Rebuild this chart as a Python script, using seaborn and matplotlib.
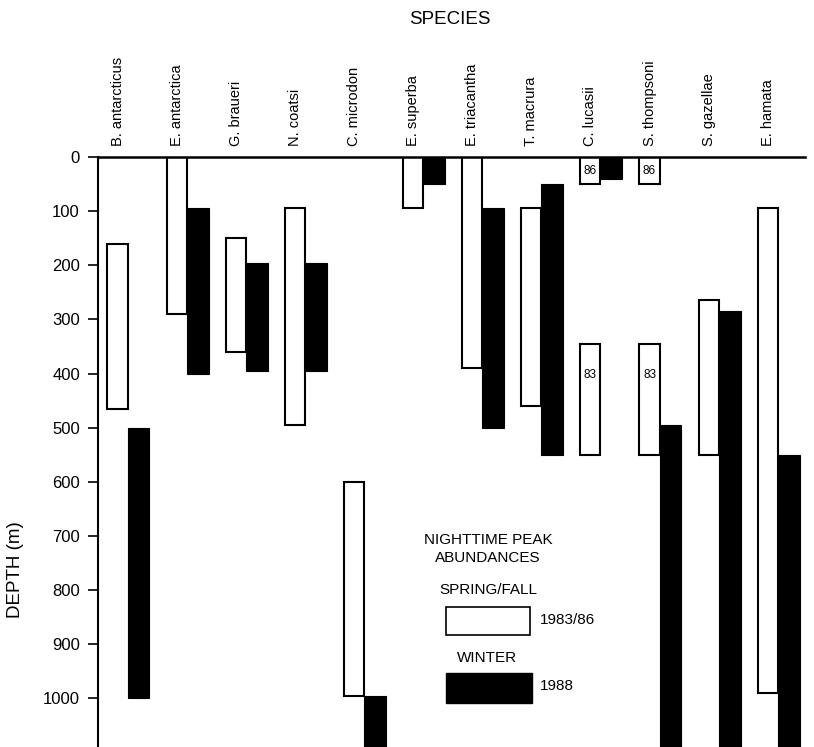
import matplotlib
matplotlib.use("Agg")
import matplotlib.pyplot as plt
from matplotlib.patches import Rectangle
import seaborn as sns
import numpy as np

# ---------------- data ----------------
species = ["B. antarcticus", "E. antarctica", "G. braueri", "N. coatsi", "C. microdon",
           "E. superba", "E. triacantha", "T. macrura", "C. lucasii", "S. thompsoni",
           "S. gazellae", "E. hamata"]

# Spring/Fall (1983/86) nighttime peak depth ranges (white bars)
spring_species = ["B. antarcticus", "E. antarctica", "G. braueri", "N. coatsi", "C. microdon",
                  "E. superba", "E. triacantha", "T. macrura", "C. lucasii", "C. lucasii",
                  "S. thompsoni", "S. thompsoni", "S. gazellae", "E. hamata"]
spring_top = [160, 0, 150, 95, 600, 0, 0, 95, 0, 345, 0, 345, 265, 95]
spring_bottom = [465, 290, 360, 495, 995, 95, 390, 460, 50, 550, 50, 550, 550, 990]
spring_note = ["", "", "", "", "", "", "", "", "86", "83", "86", "83", "", ""]

# Winter (1988) nighttime peak depth ranges (black bars)
winter_top = [500, 95, 195, 195, 995, 0, 95, 50, 0, 495, 285, 550]
winter_bottom = [1000, 400, 395, 395, 1100, 50, 500, 550, 40, 1100, 1100, 1100]

yticks = [0, 100, 200, 300, 400, 500, 600, 700, 800, 900, 1000]

# ---------------- style ----------------
sns.set_theme(style="ticks")
plt.rcParams["font.family"] = ["Liberation Sans", "DejaVu Sans"]
plt.rcParams["text.color"] = "black"
plt.rcParams["axes.labelcolor"] = "black"
plt.rcParams["xtick.color"] = "black"
plt.rcParams["ytick.color"] = "black"

fig = plt.figure(figsize=(8.14, 7.47), dpi=100)
ax = fig.add_axes([98 / 814, 0.0, (805 - 98) / 814, (747 - 157) / 747])

xpos = {s: i for i, s in enumerate(species)}
w_white = 0.34
w_black = 0.37

# white bars
sx = np.array([xpos[s] for s in spring_species], dtype=float)
sh = np.array(spring_bottom) - np.array(spring_top)
ax.bar(sx, sh, bottom=spring_top, width=w_white, color="white",
       edgecolor="black", linewidth=1.5, align="center", zorder=2)
for x, t, b, note in zip(sx, spring_top, spring_bottom, spring_note):
    if note:
        yc = (t + b) / 2 if b - t < 100 else 403
        ax.text(x, yc, note, ha="center", va="center", fontsize=8.5, color="black", zorder=3)

# black bars
bx = np.arange(len(species)) + w_white / 2
bh = np.array(winter_bottom) - np.array(winter_top)
ax.bar(bx, bh, bottom=winter_top, width=w_black, color="black",
       edgecolor="black", linewidth=0.8, align="edge", zorder=2)

# axes
ax.set_xlim(-0.33, 11.63)
ax.set_ylim(1090, 0)
ax.set_yticks(yticks)
ax.set_yticklabels([str(v) for v in yticks], fontsize=12)
ax.tick_params(axis="y", direction="out", length=7, width=1.2, pad=6, colors="black")
ax.xaxis.tick_top()
ax.set_xticks(range(len(species)))
ax.set_xticklabels(species, rotation=90, fontsize=10.5)
ax.tick_params(axis="x", length=0, pad=8, colors="black")

for side in ["right", "bottom"]:
    ax.spines[side].set_visible(False)
ax.spines["left"].set_linewidth(1.5)
ax.spines["top"].set_linewidth(1.8)
ax.spines["left"].set_color("black")
ax.spines["top"].set_color("black")

ax.set_ylabel("DEPTH (m)", fontsize=13.5, color="black")
ax.yaxis.set_label_coords(-0.105, 0.3)

fig.text(450 / 814, 1 - 20 / 747, "SPECIES", ha="center", va="center", fontsize=13.5, color="black")

# legend block
def fx(px):
    return px / 814

def fy(py):
    return 1 - py / 747

fig.text(fx(488), fy(540), "NIGHTTIME PEAK", ha="center", va="center", fontsize=11)
fig.text(fx(488), fy(558), "ABUNDANCES", ha="center", va="center", fontsize=11)
fig.text(fx(488), fy(590), "SPRING/FALL", ha="center", va="center", fontsize=11)
fig.patches.append(Rectangle((fx(446), fy(635)), fx(84), 28 / 747, transform=fig.transFigure,
                             facecolor="white", edgecolor="black", linewidth=1.2, figure=fig))
fig.text(fx(540), fy(620), "1983/86", ha="left", va="center", fontsize=11)
fig.text(fx(487), fy(658), "WINTER", ha="center", va="center", fontsize=11)
fig.patches.append(Rectangle((fx(446), fy(703)), fx(86), 30 / 747, transform=fig.transFigure,
                             facecolor="black", edgecolor="black", linewidth=1.0, figure=fig))
fig.text(fx(540), fy(686), "1988", ha="left", va="center", fontsize=11)

fig.savefig("out.png", dpi=100, facecolor="white")
